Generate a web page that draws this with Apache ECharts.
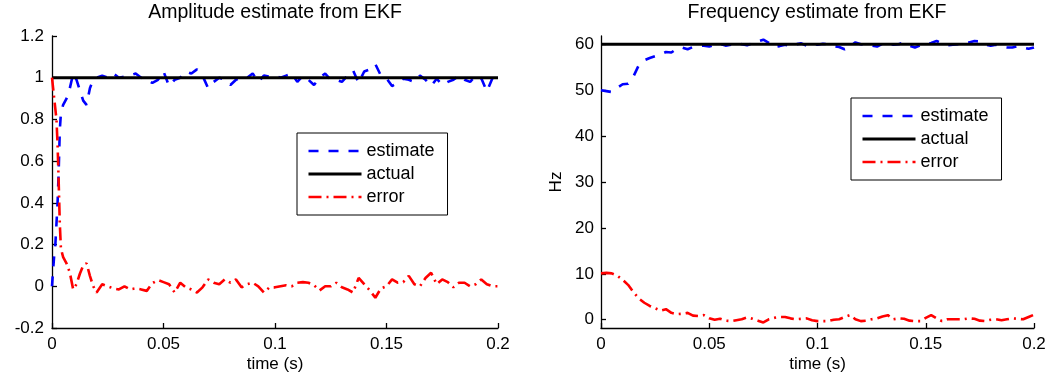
<!DOCTYPE html>
<html>
<head>
<meta charset="utf-8">
<script src="https://cdn.jsdelivr.net/npm/echarts@6/dist/echarts.min.js"></script>
<style>
html,body{margin:0;padding:0;background:#fff;}
#chart{width:1050px;height:382px;}
</style>
</head>
<body>
<div id="chart"></div>
<script>
// ---------- data ----------
const titles = ['Amplitude estimate from EKF', 'Frequency estimate from EKF'];
const legendNames = ['estimate', 'actual', 'error'];
const xTickLabels = ['0', '0.05', '0.1', '0.15', '0.2'];

// time (s) for the amplitude estimator
const tA = [
  0, 0.0005, 0.001, 0.0015, 0.002, 0.0025, 0.003, 0.0035, 0.004, 0.005,
  0.0065, 0.008, 0.0095, 0.011, 0.0125, 0.014, 0.0155, 0.017, 0.0185, 0.02,
  0.0225, 0.025, 0.0275, 0.03, 0.0325, 0.035, 0.0375, 0.04, 0.0425, 0.045,
  0.0475, 0.05, 0.0525, 0.055, 0.0575, 0.06, 0.0625, 0.065, 0.0675, 0.07,
  0.0725, 0.075, 0.0775, 0.08, 0.0825, 0.085, 0.0875, 0.09, 0.0925, 0.095,
  0.0975, 0.1, 0.1025, 0.105, 0.1075, 0.11, 0.1125, 0.115, 0.1175, 0.12,
  0.1225, 0.125, 0.1275, 0.13, 0.1325, 0.135, 0.1375, 0.14, 0.1425, 0.145,
  0.1475, 0.15, 0.1525, 0.155, 0.1575, 0.16, 0.1625, 0.165, 0.1675, 0.17,
  0.1725, 0.175, 0.1775, 0.18, 0.1825, 0.185, 0.1875, 0.19, 0.1925, 0.195,
  0.1975, 0.2
];
const ampEst = [
  0, 0.08, 0.15, 0.2, 0.3, 0.4, 0.55, 0.75, 0.83, 0.87,
  0.9, 0.95, 1.02, 0.99, 0.94, 0.89, 0.87, 0.95, 0.99, 1.0,
  1.01, 1.0, 1.02, 1.0, 1.005, 1.01, 1.02, 1.0, 0.99, 0.975,
  0.99, 1.03, 0.96, 0.99, 1.0, 1.03, 1.02, 1.04, 1.01, 0.95,
  0.98, 1.0, 0.99, 0.965, 0.99, 1.0, 1.0, 1.02, 0.98, 1.01,
  1.005, 1.01, 1.0, 1.01, 1.02, 0.98, 1.01, 0.99, 0.965, 1.0,
  1.02, 0.99, 0.99, 0.98, 1.01, 1.035, 0.975, 1.03, 1.04, 1.065,
  1.01, 0.997, 0.96, 0.975, 0.995, 0.99, 0.98, 1.01, 0.99, 0.96,
  0.995, 0.965, 0.98, 0.99, 1.01, 0.99, 0.98, 1.01, 0.997, 0.935,
  0.997, 1.0
];
const ampErr = [
  1.0, 0.95, 0.9, 0.85, 0.8, 0.68, 0.5, 0.3, 0.18, 0.14,
  0.11, 0.065, -0.015, 0.01, 0.06, 0.1, 0.11, 0.05, 0.0, -0.03,
  0.01, 0.0, -0.01, -0.015, 0.0, -0.015, -0.01, -0.015, -0.022, 0.015,
  0.03, 0.02, 0.01, -0.03, 0.017, -0.005, -0.015, -0.03, -0.005, 0.033,
  0.017, 0.01, 0.033, 0.017, 0.033, -0.005, 0.01, 0.017, 0.0, -0.03,
  -0.005, -0.005, 0.0, 0.005, 0.0, 0.017, 0.02, 0.017, 0.005, -0.02,
  0.0, 0.0, 0.017, -0.005, -0.015, -0.03, 0.04, 0.01, -0.02, -0.055,
  -0.01, 0.0, 0.033, 0.017, 0.02, 0.05, 0.01, 0.0, 0.04, 0.065,
  0.01, 0.033, 0.02, -0.005, 0.017, 0.017, 0.0, 0.01, 0.033, 0.01,
  0.0, 0.0
];
const tActual = [0, 0.2];
const ampActual = [1, 1];

// time (s) for the frequency estimator
const tF = [
  0, 0.0025, 0.005, 0.0075, 0.01, 0.0125, 0.015, 0.0175, 0.02, 0.0225,
  0.025, 0.0275, 0.03, 0.0325, 0.035, 0.0375, 0.04, 0.0425, 0.045, 0.0475,
  0.05, 0.0525, 0.055, 0.0575, 0.06, 0.0625, 0.065, 0.0675, 0.07, 0.0725,
  0.075, 0.0775, 0.08, 0.0825, 0.085, 0.0875, 0.09, 0.0925, 0.095, 0.0975,
  0.1, 0.1025, 0.105, 0.1075, 0.11, 0.1125, 0.115, 0.1175, 0.12, 0.1225,
  0.125, 0.1275, 0.13, 0.1325, 0.135, 0.1375, 0.14, 0.1425, 0.145, 0.1475,
  0.15, 0.1525, 0.155, 0.1575, 0.16, 0.1625, 0.165, 0.1675, 0.17, 0.1725,
  0.175, 0.1775, 0.18, 0.1825, 0.185, 0.1875, 0.19, 0.1925, 0.195, 0.1975,
  0.2
];
const freqEst = [
  50.0, 49.8, 49.6, 50.5, 51.3, 51.4, 53.0, 55.5, 56.5, 57.0,
  57.4, 57.8, 58.3, 58.2, 59.0, 59.3, 58.9, 59.4, 59.6, 59.7,
  59.5, 59.9, 60.1, 59.7, 59.9, 60.2, 60.0, 59.8, 60.2, 60.6,
  61.0, 60.3, 59.4, 59.6, 59.9, 59.6, 60.0, 60.2, 59.7, 60.1,
  59.9, 60.1, 60.0, 59.6, 59.4, 58.9, 59.6, 60.4, 60.0, 59.9,
  59.7, 59.5, 60.1, 60.2, 59.9, 60.0, 60.4, 59.7, 59.3, 59.8,
  60.0, 60.3, 60.7, 60.2, 59.8, 59.9, 60.0, 60.2, 60.4, 60.7,
  60.6, 59.9, 59.7, 59.9, 59.5, 59.3, 59.3, 59.6, 59.3, 59.0,
  59.3
];
const freqErr = [
  10.1, 10.2, 10.1, 9.6, 8.7, 7.6, 6.0, 4.6, 3.7, 3.0,
  2.5, 2.0, 2.3, 1.5, 1.2, 1.3, 1.5, 0.9, 0.8, 1.0,
  0.3, 0.0, 0.2, -0.2, -0.3, -0.1, 0.1, 0.5, 0.2, -0.2,
  -0.6, 0.1, 0.4, 0.6, 0.6, 0.3, 0.1, 0.2, 0.3, -0.1,
  -0.3, -0.3, -0.3, 0.0, 0.1, 0.6, 1.0, 0.1, -0.3, -0.2,
  0.1, 0.3, 0.7, 1.0, 0.1, 0.3, 0.2, -0.2, -0.3, -0.3,
  0.4, 1.0, 0.3, -0.3, 0.1, 0.1, 0.1, 0.1, 0.3, 0.2,
  -0.2, -0.3, 0.0, 0.1, -0.1, 0.1, 0.3, 0.2, 0.1, 0.6,
  1.1
];
const freqActual = [60, 60];
const freqTicks = [0, 10, 20, 30, 40, 50, 60];

// ---------- chart ----------
const FONT = "'Liberation Sans', Arial, Helvetica, sans-serif";
const pairs = (t, v) => t.map((x, i) => [x, v[i]]);

const estStyle = { color: '#0000ff', width: 2.6, type: [10, 10] };
const actStyle = { color: '#000000', width: 3, type: 'solid' };
const errStyle = { color: '#ff0000', width: 2.6, type: [13, 5, 2, 5] };

function xAxisDef(gridIndex) {
  return {
    type: 'value', gridIndex, min: 0, max: 0.2, interval: 0.05,
    name: 'time (s)', nameLocation: 'middle', nameGap: 28, nameMoveOverlap: false,
    nameTextStyle: { color: '#000', fontSize: 17, fontFamily: FONT },
    axisLine: { show: true, onZero: false, lineStyle: { color: '#000', width: 1.3 } },
    axisTick: { show: true, inside: true, length: 5, lineStyle: { color: '#000', width: 1.3 } },
    axisLabel: {
      color: '#000', fontSize: 17, fontFamily: FONT, margin: 8,
      formatter: (v) => xTickLabels[Math.round(v / 0.05)]
    },
    splitLine: { show: false }
  };
}

function legendDef(left, top) {
  return {
    left, top, orient: 'vertical',
    padding: [9, 13, 9, 10], itemWidth: 53, itemHeight: 14, itemGap: 5,
    borderColor: '#000', borderWidth: 1, backgroundColor: '#fff',
    selectedMode: false,
    itemStyle: { opacity: 0, borderWidth: 0 },
    textStyle: { color: '#000', fontSize: 18, fontFamily: FONT },
    data: [
      { name: legendNames[0], lineStyle: { width: 2.6 }, itemStyle: { opacity: 0 } },
      { name: legendNames[1], lineStyle: { width: 3 }, itemStyle: { opacity: 0 } },
      { name: legendNames[2], lineStyle: { width: 2.6 }, itemStyle: { opacity: 0 } }
    ]
  };
}

const option = {
  animation: false,
  backgroundColor: '#ffffff',
  title: [
    { text: titles[0], left: 275, top: 3, textAlign: 'center', padding: 0,
      textStyle: { fontSize: 19.5, fontWeight: 'normal', color: '#000', fontFamily: FONT } },
    { text: titles[1], left: 817, top: 3, textAlign: 'center', padding: 0,
      textStyle: { fontSize: 19.5, fontWeight: 'normal', color: '#000', fontFamily: FONT } }
  ],
  grid: [
    { left: 52, top: 36, width: 446, height: 292 },
    { left: 601, top: 36, width: 433, height: 292 }
  ],
  xAxis: [xAxisDef(0), xAxisDef(1)],
  yAxis: [
    {
      type: 'value', gridIndex: 0, min: -0.2, max: 1.2, interval: 0.2,
      axisLine: { show: true, onZero: false, lineStyle: { color: '#000', width: 1.3 } },
      axisTick: { show: true, inside: true, length: 5, lineStyle: { color: '#000', width: 1.3 } },
      axisLabel: { color: '#000', fontSize: 17, fontFamily: FONT, margin: 8 },
      splitLine: { show: false }
    },
    {
      type: 'value', gridIndex: 1, min: -1.8, max: 61.8,
      name: 'Hz', nameLocation: 'middle', nameGap: 36, nameRotate: 90,
      nameTextStyle: { color: '#000', fontSize: 17, fontFamily: FONT },
      axisLine: { show: true, onZero: false, lineStyle: { color: '#000', width: 1.3 } },
      axisTick: { show: true, inside: true, length: 5, customValues: freqTicks,
        lineStyle: { color: '#000', width: 1.3 } },
      axisLabel: { color: '#000', fontSize: 17, fontFamily: FONT, margin: 7, customValues: freqTicks },
      splitLine: { show: false }
    }
  ],
  legend: [legendDef(297, 133), legendDef(851, 98)],
  series: [
    { name: legendNames[0], type: 'line', xAxisIndex: 0, yAxisIndex: 0, symbol: 'none',
      data: pairs(tA, ampEst), lineStyle: estStyle, itemStyle: { color: '#0000ff' } },
    { name: legendNames[1], type: 'line', xAxisIndex: 0, yAxisIndex: 0, symbol: 'none',
      data: pairs(tActual, ampActual), lineStyle: actStyle, itemStyle: { color: '#000' } },
    { name: legendNames[2], type: 'line', xAxisIndex: 0, yAxisIndex: 0, symbol: 'none',
      data: pairs(tA, ampErr), lineStyle: errStyle, itemStyle: { color: '#ff0000' } },
    { name: legendNames[0], type: 'line', xAxisIndex: 1, yAxisIndex: 1, symbol: 'none',
      data: pairs(tF, freqEst), lineStyle: estStyle, itemStyle: { color: '#0000ff' } },
    { name: legendNames[1], type: 'line', xAxisIndex: 1, yAxisIndex: 1, symbol: 'none',
      data: pairs(tActual, freqActual), lineStyle: actStyle, itemStyle: { color: '#000' } },
    { name: legendNames[2], type: 'line', xAxisIndex: 1, yAxisIndex: 1, symbol: 'none',
      data: pairs(tF, freqErr), lineStyle: errStyle, itemStyle: { color: '#ff0000' } }
  ]
};

const chart = echarts.init(document.getElementById('chart'), null, { renderer: 'canvas' });
chart.setOption(option);
</script>
</body>
</html>
